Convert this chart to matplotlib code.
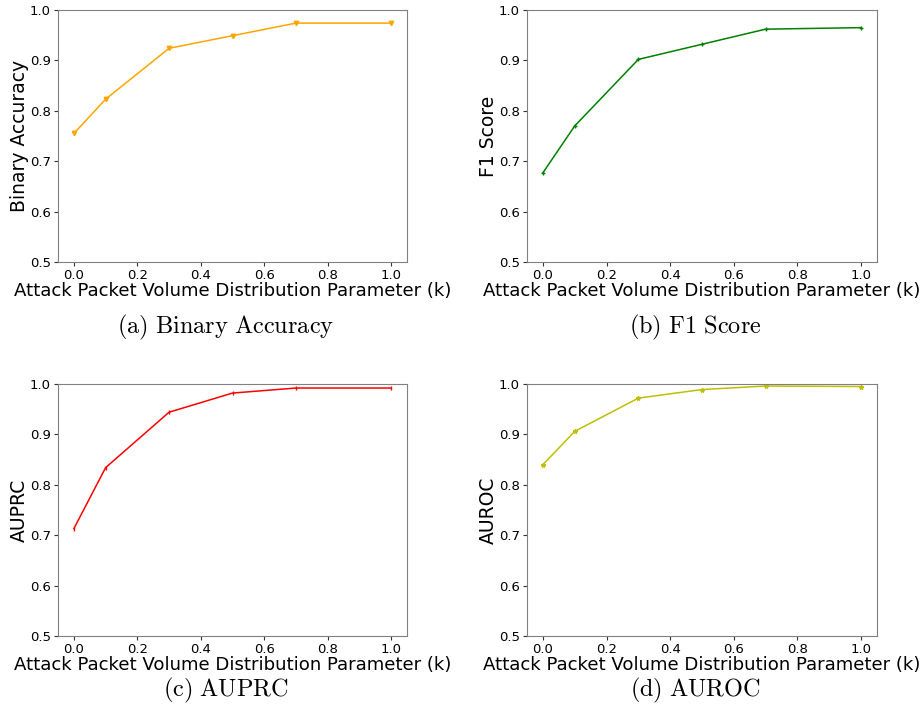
import matplotlib
matplotlib.use("Agg")
import matplotlib.pyplot as plt

plt.rcParams['mathtext.fontset'] = 'cm'

k_values = [0.0, 0.1, 0.3, 0.5, 0.7, 1.0]
binary_accuracy = [0.755, 0.823, 0.924, 0.949, 0.974, 0.974]
f1_score = [0.677, 0.770, 0.902, 0.932, 0.962, 0.965]
auprc = [0.713, 0.834, 0.944, 0.982, 0.992, 0.992]
auroc = [0.840, 0.906, 0.972, 0.989, 0.996, 0.995]

panels = [
    (binary_accuracy, "Binary Accuracy", "orange", "v", "(a)\\ Binary\\ Accuracy"),
    (f1_score, "F1 Score", "green", "+", "(b)\\ F1\\ Score"),
    (auprc, "AUPRC", "red", "|", "(c)\\ AUPRC"),
    (auroc, "AUROC", "y", "*", "(d)\\ AUROC"),
]

W, H = 924, 717
fig = plt.figure(figsize=(W / 100, H / 100), dpi=100)

# pixel boxes (left, right, top, bottom)
boxes = [(58, 407, 10, 262), (527, 877, 10, 262),
         (58, 407, 384, 636), (527, 877, 384, 636)]
caption_y = [327, 327, 690, 690]

for (vals, ylab, col, mk, cap), (l, r, t, b), cy in zip(panels, boxes, caption_y):
    ax = fig.add_axes([l / W, 1 - b / H, (r - l) / W, (b - t) / H])
    ax.plot(k_values, vals, color=col, marker=mk, markersize=3.2, linewidth=1.1)
    ax.set_ylim(0.5, 1.0)
    ax.set_xlim(-0.05, 1.05)
    ax.set_xticks([0.0, 0.2, 0.4, 0.6, 0.8, 1.0])
    ax.set_yticks([0.5, 0.6, 0.7, 0.8, 0.9, 1.0])
    ax.tick_params(labelsize=9.5, colors='#333333', labelcolor='black',
                   length=3, pad=2)
    for s in ax.spines.values():
        s.set_color('#808080')
    ax.set_xlabel("Attack Packet Volume Distribution Parameter (k)", fontsize=13.1, labelpad=0)
    ax.set_ylabel(ylab, fontsize=13.5, labelpad=1)
    fig.text(((l + r) / 2 - 7) / W, 1 - cy / H, r"$\mathrm{" + cap + "}$",
             fontsize=17.5, ha='center', va='center')

fig.savefig("out.png", dpi=100)
